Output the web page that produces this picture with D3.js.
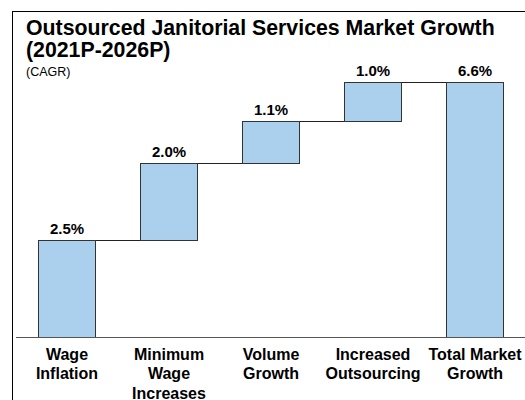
<!DOCTYPE html>
<html>
<head>
<meta charset="utf-8">
<script src="https://cdn.jsdelivr.net/npm/d3@7"></script>
<style>
  html, body { margin: 0; padding: 0; background: #fff; }
  svg { display: block; font-family: "Liberation Sans", Arial, sans-serif; }
</style>
</head>
<body>
<svg id="chart" width="525" height="400"></svg>
<script>
const categories = ["Wage Inflation", "Minimum Wage Increases", "Volume Growth", "Increased Outsourcing", "Total Market Growth"];
const categoryLines = [["Wage", "Inflation"], ["Minimum", "Wage", "Increases"], ["Volume", "Growth"], ["Increased", "Outsourcing"], ["Total Market", "Growth"]];
const values = [2.5, 2.0, 1.1, 1.0, 6.6];
const isTotal = [false, false, false, false, true];
const valueLabels = ["2.5%", "2.0%", "1.1%", "1.0%", "6.6%"];
const titleLines = ["Outsourced Janitorial Services Market Growth", "(2021P-2026P)"];
const subtitle = "(CAGR)";

const svg = d3.select("#chart");

// frame
svg.append("rect").attr("x", 12.5).attr("y", 11.5).attr("width", 600).attr("height", 500)
  .attr("fill", "none").attr("stroke", "#000").attr("stroke-width", 1);

// compute waterfall starts
let run = 0;
const bars = values.map((v, i) => {
  const start = isTotal[i] ? 0 : run;
  const end = isTotal[i] ? v : run + v;
  if (!isTotal[i]) run += v;
  return { cat: categories[i], lines: categoryLines[i], start, end, label: valueLabels[i] };
});

const x = d3.scaleBand().domain(categories).range([16, 526]).paddingInner(0.44).paddingOuter(0.22);
const y = d3.scaleLinear().domain([0, 6.6]).range([337, 82]);

// title
svg.append("text").attr("x", 26).attr("y", 35).attr("font-size", 21.3).attr("font-weight", "bold")
  .attr("fill", "#000").text(titleLines[0]);
svg.append("text").attr("x", 26).attr("y", 57).attr("font-size", 21.3).attr("font-weight", "bold")
  .attr("fill", "#000").text(titleLines[1]);
svg.append("text").attr("x", 26).attr("y", 76).attr("font-size", 12.5)
  .attr("fill", "#000").text(subtitle);

// connectors
bars.forEach((b, i) => {
  if (i < bars.length - 1) {
    svg.append("line")
      .attr("x1", x(b.cat) + x.bandwidth()).attr("x2", x(bars[i + 1].cat))
      .attr("y1", Math.round(y(b.end)) + 0.5).attr("y2", Math.round(y(b.end)) + 0.5)
      .attr("stroke", "#222").attr("stroke-width", 1);
  }
});

// bars
svg.selectAll("rect.bar").data(bars).enter().append("rect").attr("class", "bar")
  .attr("x", d => Math.round(x(d.cat)) + 0.5)
  .attr("y", d => Math.round(y(d.end)) + 0.5)
  .attr("width", Math.round(x.bandwidth()))
  .attr("height", d => Math.round(y(d.start)) - Math.round(y(d.end)))
  .attr("fill", "#abd0ee").attr("stroke", "#333").attr("stroke-width", 1);

// baseline axis
const axis = d3.axisBottom(x).tickSize(0).tickFormat("");
const ax = svg.append("g").attr("transform", "translate(0,337.5)").call(axis);
ax.select(".domain").attr("stroke", "#555").attr("d", "M16,0H525");

// value labels
svg.selectAll("text.val").data(bars).enter().append("text").attr("class", "val")
  .attr("x", d => x(d.cat) + x.bandwidth() / 2)
  .attr("y", d => y(d.end) - 6)
  .attr("text-anchor", "middle").attr("font-size", 15).attr("font-weight", "bold")
  .attr("fill", "#000").text(d => d.label);

// category labels
bars.forEach(b => {
  const t = svg.append("text").attr("text-anchor", "middle").attr("font-size", 16)
    .attr("font-weight", "bold").attr("fill", "#000");
  b.lines.forEach((ln, j) => {
    t.append("tspan").attr("x", x(b.cat) + x.bandwidth() / 2).attr("y", 359.5 + j * 19.5).text(ln);
  });
});
</script>
</body>
</html>
